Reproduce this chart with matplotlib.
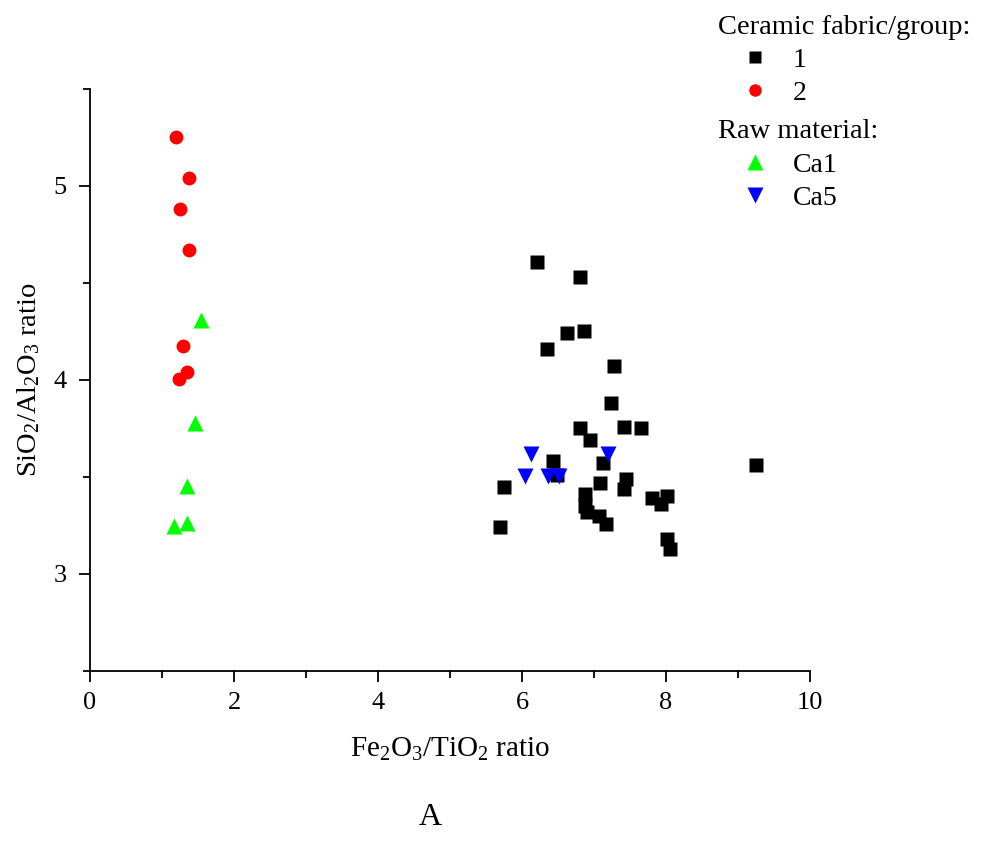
import matplotlib
matplotlib.use("Agg")
import matplotlib.pyplot as plt
from matplotlib.lines import Line2D

plt.rcParams['font.family'] = ['Liberation Serif', 'DejaVu Serif']
plt.rcParams['mathtext.fontset'] = 'custom'
plt.rcParams['mathtext.rm'] = 'Liberation Serif'
plt.rcParams['mathtext.it'] = 'Liberation Serif:italic'

# ceramic fabric/group 1
g1_x = [6.21, 6.81, 6.63, 6.86, 6.34, 7.27, 7.24, 6.81, 7.42, 7.65,
        6.95, 6.43, 7.12, 9.25, 7.45, 7.08, 7.41, 5.75, 6.88, 8.01,
        7.81, 7.93, 6.88, 6.90, 7.07, 7.17, 5.69, 8.01, 8.06, 6.48]
g1_y = [4.61, 4.53, 4.24, 4.25, 4.16, 4.07, 3.88, 3.75, 3.76, 3.75,
        3.69, 3.58, 3.57, 3.56, 3.49, 3.47, 3.44, 3.45, 3.41, 3.40,
        3.39, 3.36, 3.35, 3.32, 3.30, 3.26, 3.24, 3.18, 3.13, 3.51]

# ceramic fabric/group 2
g2_x = [1.20, 1.37, 1.25, 1.375, 1.29, 1.35, 1.24]
g2_y = [5.25, 5.04, 4.88, 4.67, 4.175, 4.04, 4.005]

# raw materials
ca1_x = [1.54, 1.46, 1.34, 1.34, 1.16]
ca1_y = [4.31, 3.78, 3.455, 3.265, 3.245]
ca5_x = [6.12, 6.04, 6.36, 6.51, 7.20]
ca5_y = [3.62, 3.505, 3.505, 3.505, 3.62]

fig = plt.figure(figsize=(9.83, 8.5), dpi=100)
ax = fig.add_axes([0.0916, 0.2106, 0.7325, 0.6847])

ax.plot(g1_x, g1_y, ls='none', marker='s', ms=9.5, color='black', mec='none')
ax.plot(g2_x, g2_y, ls='none', marker='o', ms=10, color='#ff0000', mec='none')
ax.plot(ca1_x, ca1_y, ls='none', marker='^', ms=11.5, color='#00ff00', mec='none')
ax.plot(ca5_x, ca5_y, ls='none', marker='v', ms=11.5, color='#0000ff', mec='none')

ax.set_xlim(0, 10)
ax.set_ylim(2.5, 5.5)
ax.set_xticks([0, 2, 4, 6, 8, 10])
ax.set_xticks([1, 3, 5, 7, 9], minor=True)
ax.set_yticks([3, 4, 5])
ax.set_yticks([2.5, 3.5, 4.5, 5.5], minor=True)
for s in ['top', 'right']:
    ax.spines[s].set_visible(False)
for s in ['left', 'bottom']:
    ax.spines[s].set_linewidth(1.3)
ax.tick_params(which='major', length=8, width=1.3, labelsize=19, direction='out')
ax.tick_params(which='minor', length=5, width=1.3, direction='out')
ax.tick_params(axis='y', pad=9)
ax.tick_params(axis='x', pad=7)

ax.set_xlabel(r'Fe$_2$O$_3$/TiO$_2$ ratio', fontsize=21, labelpad=16)
ax.set_ylabel(r'SiO$_2$/Al$_2$O$_3$ ratio', fontsize=20.5, labelpad=8)

fig.text(0.438, 0.021, 'A', fontsize=23, ha='center', va='bottom')

# legends, split by section
leg_kw = dict(loc='upper left', frameon=False, fontsize=20, title_fontsize=20.5,
              alignment='left', handletextpad=0.0, handlelength=2.7,
              borderpad=0.0, labelspacing=0.28)
h1 = [Line2D([], [], ls='none', marker='s', ms=8, color='black', mec='none'),
      Line2D([], [], ls='none', marker='o', ms=9, color='#ff0000', mec='none')]
h2 = [Line2D([], [], ls='none', marker='^', ms=11, color='#00ff00', mec='none'),
      Line2D([], [], ls='none', marker='v', ms=11, color='#0000ff', mec='none')]
fig.legend(h1, ['1', '2'], title='Ceramic fabric/group:',
           bbox_to_anchor=(0.716, 0.999), **leg_kw)
fig.legend(h2, ['Ca1', 'Ca5'], title='Raw material:',
           bbox_to_anchor=(0.716, 0.876), **leg_kw)

fig.savefig('out.png', dpi=100)
